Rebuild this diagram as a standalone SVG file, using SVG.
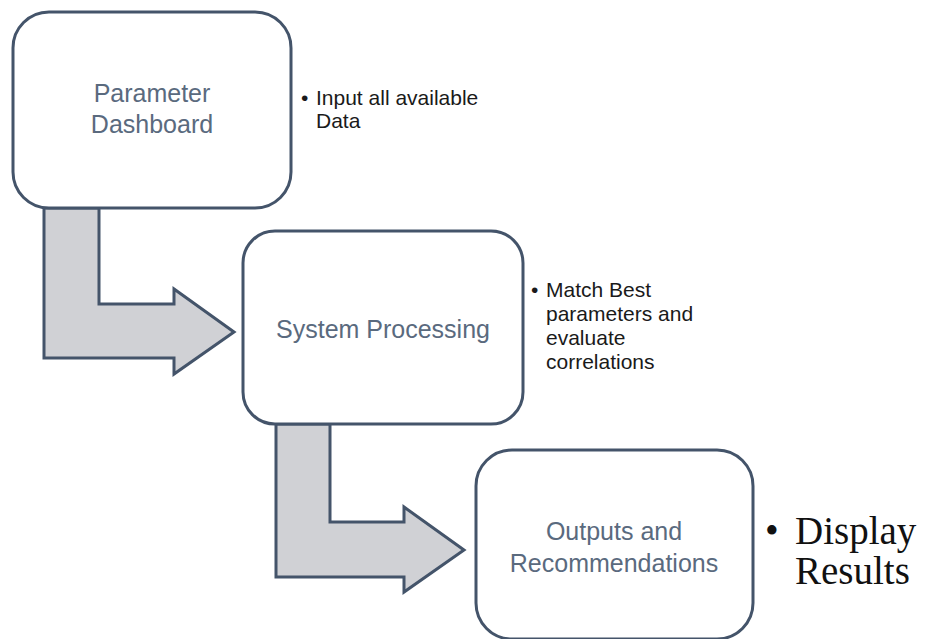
<svg xmlns="http://www.w3.org/2000/svg" width="935" height="639" viewBox="0 0 935 639">
  <style>
    .box { fill: #ffffff; stroke: #44546a; stroke-width: 3; }
    .flow { fill: #d0d1d5; stroke: #44546a; stroke-width: 3; stroke-linejoin: miter; }
    .label { font-family: "Liberation Sans", Arial, sans-serif; font-size: 25px; fill: #5a6a7e; text-anchor: middle; }
    .note { font-family: "Liberation Sans", Arial, sans-serif; font-size: 21px; fill: #1a1a1a; }
    .note-big { font-family: "Liberation Serif", "Times New Roman", serif; font-size: 39px; fill: #111111; }
  </style>
  <rect width="935" height="639" fill="#ffffff"/>

  <!-- bent block arrows between stages -->
  <g id="connectors">
    <polygon class="flow" points="44,208 99,208 99,304 174,304 174,289 234,332 174,374 174,358 44,358"/>
    <polygon class="flow" points="276,424 330,424 330,522 404,522 404,507 464,550 404,592 404,577 276,577"/>
  </g>

  <g id="parameter-dashboard">
    <rect class="box" x="13" y="12" width="278" height="196" rx="36" ry="36"/>
    <text class="label" x="152" y="102">Parameter</text>
    <text class="label" x="152" y="133">Dashboard</text>
  </g>

  <g id="system-processing">
    <rect class="box" x="243" y="231" width="280" height="193" rx="32" ry="32"/>
    <text class="label" x="383" y="338">System Processing</text>
  </g>

  <g id="outputs-recommendations">
    <rect class="box" x="476" y="450" width="277" height="189" rx="36" ry="36"/>
    <text class="label" x="614" y="540">Outputs and</text>
    <text class="label" x="614" y="572">Recommendations</text>
  </g>

  <!-- side notes -->
  <g id="note-input">
    <text class="note" x="301" y="105">•</text>
    <text class="note" x="316" y="105">Input all available</text>
    <text class="note" x="316" y="128">Data</text>
  </g>

  <g id="note-match">
    <text class="note" x="531" y="297">•</text>
    <text class="note" x="546" y="297">Match Best</text>
    <text class="note" x="546" y="321">parameters and</text>
    <text class="note" x="546" y="345">evaluate</text>
    <text class="note" x="546" y="369">correlations</text>
  </g>

  <g id="note-display">
    <text class="note-big" x="765" y="544">•</text>
    <text class="note-big" x="795" y="544">Display</text>
    <text class="note-big" x="795" y="584">Results</text>
  </g>
</svg>
